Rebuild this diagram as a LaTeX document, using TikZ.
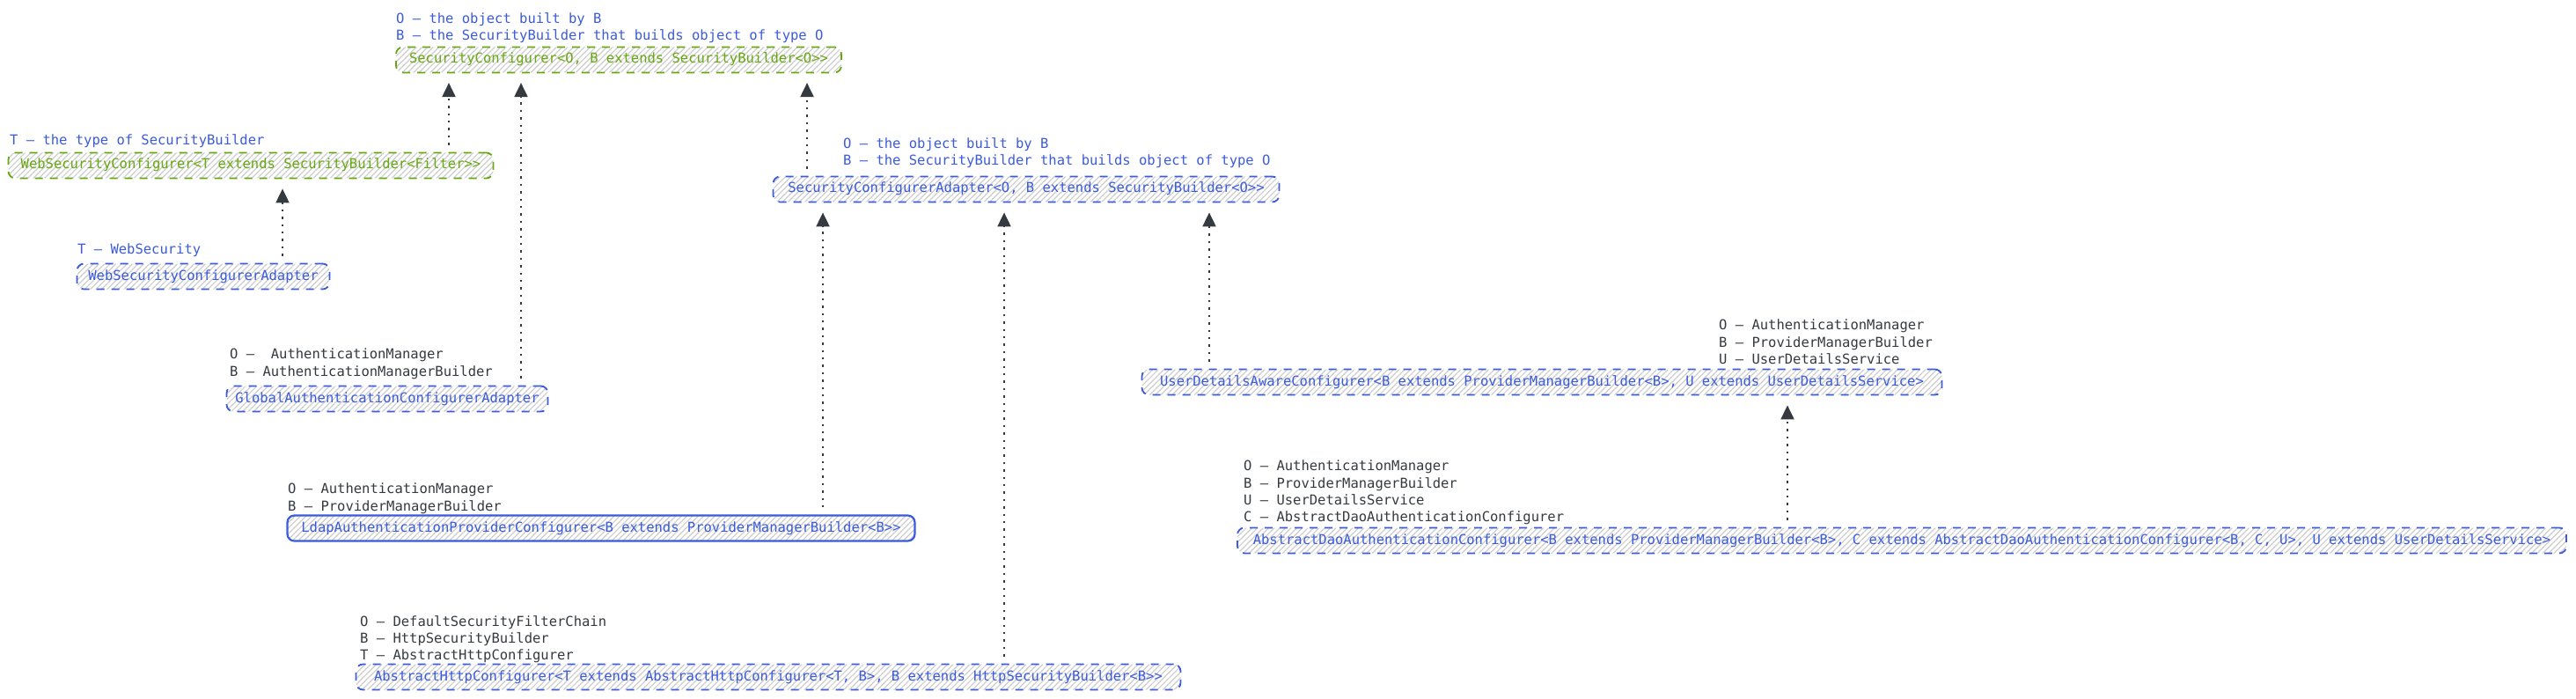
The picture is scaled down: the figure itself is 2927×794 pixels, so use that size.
\documentclass[tikz,border=0pt]{standalone}
\usepackage{fontspec}
\usepackage{xcolor}
\usepackage{tikz}
\usetikzlibrary{patterns.meta, arrows.meta}
\setmonofont{DejaVu Sans Mono}
\definecolor{cfggreen}{HTML}{66A80F}
\definecolor{cfgblue}{HTML}{3B5BDB}
\definecolor{cfgdark}{HTML}{343A40}
\definecolor{hatchgray}{HTML}{CDCDCD}

\begin{document}
\begin{tikzpicture}[x=1pt, y=-1pt,
	every node/.style={font=\ttfamily\fontsize{15.5}{19.3}\selectfont},
	cfgbox/.style={rounded corners=8pt, line width=1.8pt, dash pattern=on 9pt off 8pt, pattern={Lines[angle=45,distance=4.5pt,line width=1.2pt]}, pattern color=hatchgray, minimum height=29pt, inner xsep=0pt, text height=11pt, text depth=3pt},
	greenbox/.style={cfgbox, draw=cfggreen, text=cfggreen},
	bluebox/.style={cfgbox, draw=cfgblue, text=cfgblue},
	lbl/.style={anchor=north west, inner sep=0pt, align=left},
	bluelbl/.style={lbl, text=cfgblue},
	darklbl/.style={lbl, text=cfgdark},
	dep/.style={cfgdark, line width=2pt, dash pattern=on 2.4pt off 6pt, shorten <=8pt, shorten >=11pt, -{Triangle[width=15pt,length=16pt]}}]
	\useasboundingbox (0,0) rectangle (2927,794);
	
	\node[greenbox, minimum width=506pt] (sc) at (703,68) {SecurityConfigurer<O, B extends SecurityBuilder<O>>};
	\node[bluelbl] (sclbl) at (450,14) {O – the object built by B\\B – the SecurityBuilder that builds object of type O};
	
	\node[greenbox, minimum width=551pt] (wsc) at (285,188) {WebSecurityConfigurer<T extends SecurityBuilder<Filter>>};
	\node[bluelbl] (wsclbl) at (11,152) {T – the type of SecurityBuilder};
	
	\node[bluebox, minimum width=287pt] (wsca) at (231,314) {WebSecurityConfigurerAdapter};
	\node[bluelbl] (wscalbl) at (88,277) {T – WebSecurity};
	
	\node[bluebox, minimum width=365pt] (gaca) at (440,453) {GlobalAuthenticationConfigurerAdapter};
	\node[darklbl] (gacalbl) at (261,396) {O –~~AuthenticationManager\\B – AuthenticationManagerBuilder};
	
	\node[bluebox, minimum width=575pt] (sca) at (1166,215) {SecurityConfigurerAdapter<O, B extends SecurityBuilder<O>>};
	\node[bluelbl] (scalbl) at (958,156) {O – the object built by B\\B – the SecurityBuilder that builds object of type O};
	
	\node[bluebox, solid, line width=2.2pt, minimum width=713pt] (lapc) at (683,600) {LdapAuthenticationProviderConfigurer<B extends ProviderManagerBuilder<B>>};
	\node[darklbl] (lapclbl) at (327,549) {O – AuthenticationManager\\B – ProviderManagerBuilder};
	
	\node[bluebox, minimum width=937pt] (ahc) at (873,769) {AbstractHttpConfigurer<T extends AbstractHttpConfigurer<T, B>, B extends HttpSecurityBuilder<B>>};
	\node[darklbl] (ahclbl) at (409,699) {O – DefaultSecurityFilterChain\\B – HttpSecurityBuilder\\T – AbstractHttpConfigurer};
	
	\node[bluebox, minimum width=909pt] (udac) at (1752,434) {UserDetailsAwareConfigurer<B extends ProviderManagerBuilder<B>, U extends UserDetailsService>};
	\node[darklbl] (udaclbl) at (1953,363) {O – AuthenticationManager\\B – ProviderManagerBuilder\\U – UserDetailsService};
	
	\node[bluebox, minimum width=1510pt] (adac) at (2161,614) {AbstractDaoAuthenticationConfigurer<B extends ProviderManagerBuilder<B>, C extends AbstractDaoAuthenticationConfigurer<B, C, U>, U extends UserDetailsService>};
	\node[darklbl] (adaclbl) at (1413,523) {O – AuthenticationManager\\B – ProviderManagerBuilder\\U – UserDetailsService\\C – AbstractDaoAuthenticationConfigurer};
	
	\draw[dep] ([xshift=225pt]wsc.north) -- ([xshift=-193pt]sc.south);
	\draw[dep] ([xshift=152pt]gaca.north) -- ([xshift=-111pt]sc.south);
	\draw[dep] ([xshift=90pt]wsca.north) -- ([xshift=36pt]wsc.south);
	\draw[dep] ([xshift=-249pt]sca.north) -- ([xshift=214pt]sc.south);
	\draw[dep] ([xshift=252pt]lapc.north) -- ([xshift=-231pt]sca.south);
	\draw[dep] ([xshift=268pt]ahc.north) -- ([xshift=-25pt]sca.south);
	\draw[dep] ([xshift=-378pt]udac.north) -- ([xshift=208pt]sca.south);
	\draw[dep] ([xshift=-130pt]adac.north) -- ([xshift=279pt]udac.south);
\end{tikzpicture}
\end{document}
